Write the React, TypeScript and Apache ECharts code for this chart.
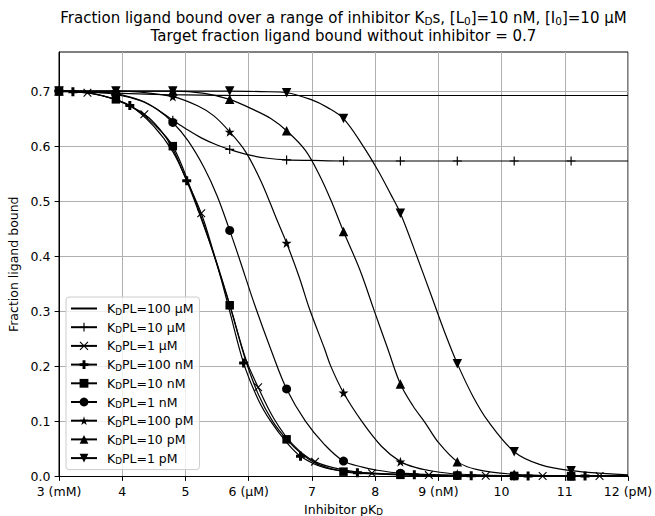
import React, { useEffect, useRef } from 'react';
import * as echarts from 'echarts';

const FONT = 'DejaVu Sans';

const xTicks = [3, 4, 5, 6, 7, 8, 9, 10, 11, 12];
const xTickLabels = ['3 (mM)', '4', '5', '6 (μM)', '7', '8', '9 (nM)', '10', '11', '12 (pM)'];
const yTicks = [0, 0.1, 0.2, 0.3, 0.4, 0.5, 0.6, 0.7];
const legendLabels = ['100 μM', '10 μM', '1 μM', '100 nM', '10 nM', '1 nM', '100 pM', '10 pM', '1 pM'];

// x positions where markers are drawn
const markersMain = [3.0, 3.9, 4.8, 5.7, 6.6, 7.5, 8.4, 9.3, 10.2, 11.1];
const markersCross = [3.45, 4.35, 5.25, 6.15, 7.05, 7.95, 8.85, 9.75, 10.65, 11.55];
const markersFilledPlus = [3.22, 4.12, 5.02, 5.92, 6.82, 7.72, 8.62, 9.52, 10.42, 11.32];
const markersNone: number[] = [];

// curves: [pKD, fraction bound]
const curve100uM = [[3.0, 0.699], [3.5, 0.698], [4.0, 0.696], [4.5, 0.694], [5.0, 0.693], [6.0, 0.692], [8.0, 0.692], [12.0, 0.692]];
const curve10uM = [[3.0, 0.7], [3.5, 0.698], [3.9, 0.694], [4.3, 0.682], [4.55, 0.667], [4.8, 0.647], [5.0, 0.632], [5.25, 0.615], [5.5, 0.602], [5.7, 0.594], [6.0, 0.584], [6.3, 0.578], [6.6, 0.575], [7.0, 0.574], [7.5, 0.573], [8.4, 0.573], [9.3, 0.573], [10.2, 0.573], [11.1, 0.573], [12.0, 0.573]];
const curve1uM = [[3.0, 0.7], [3.45, 0.697], [3.9, 0.684], [4.35, 0.658], [4.6, 0.63], [4.8, 0.595], [5.0, 0.543], [5.25, 0.478], [5.45, 0.405], [5.72, 0.305], [5.95, 0.215], [6.15, 0.162], [6.4, 0.105], [6.7, 0.058], [7.05, 0.027], [7.5, 0.012], [7.95, 0.006], [8.85, 0.0025], [9.75, 0.0015], [10.65, 0.001], [11.55, 0.0008], [12.0, 0.0008]];
const curve100nM = [[3.0, 0.7], [3.22, 0.699], [3.6, 0.694], [4.12, 0.674], [4.5, 0.636], [4.8, 0.59], [5.02, 0.537], [5.3, 0.452], [5.5, 0.385], [5.7, 0.3], [5.92, 0.206], [6.15, 0.14], [6.35, 0.1], [6.6, 0.062], [6.82, 0.037], [7.2, 0.016], [7.72, 0.007], [8.62, 0.003], [9.52, 0.0015], [10.42, 0.001], [11.32, 0.0008], [12.0, 0.0007]];
const curve10nM = [[3.0, 0.7], [3.5, 0.696], [3.9, 0.685], [4.2, 0.668], [4.5, 0.64], [4.8, 0.6], [5.1, 0.518], [5.3, 0.455], [5.45, 0.402], [5.7, 0.311], [5.95, 0.212], [6.15, 0.15], [6.38, 0.1], [6.6, 0.0675], [6.85, 0.04], [7.1, 0.022], [7.5, 0.0088], [8.0, 0.0045], [8.4, 0.003], [9.3, 0.0016], [10.2, 0.001], [11.1, 0.0008], [12.0, 0.0007]];
const curve1nM = [[3.0, 0.7], [3.5, 0.699], [3.9, 0.695], [4.3, 0.683], [4.55, 0.667], [4.8, 0.643], [5.04, 0.61], [5.3, 0.56], [5.5, 0.51], [5.7, 0.447], [5.84, 0.4], [6.1, 0.31], [6.36, 0.228], [6.6, 0.159], [6.9, 0.1], [7.2, 0.058], [7.5, 0.028], [7.8, 0.017], [8.0, 0.012], [8.4, 0.006], [9.3, 0.002], [10.2, 0.001], [11.1, 0.0007], [12.0, 0.0006]];
const curve100pM = [[3.0, 0.7], [3.9, 0.7], [4.3, 0.698], [4.8, 0.69], [5.2, 0.673], [5.45, 0.655], [5.7, 0.626], [5.95, 0.59], [6.2, 0.535], [6.44, 0.468], [6.6, 0.424], [6.8, 0.362], [6.96, 0.305], [7.2, 0.232], [7.3, 0.2], [7.5, 0.152], [7.79, 0.1], [8.1, 0.055], [8.4, 0.027], [8.65, 0.016], [8.9, 0.01], [9.3, 0.0045], [10.2, 0.0015], [11.1, 0.0007], [12.0, 0.0005]];
const curve10pM = [[3.0, 0.7], [3.9, 0.7], [4.8, 0.7], [5.3, 0.696], [5.7, 0.685], [6.1, 0.665], [6.35, 0.65], [6.6, 0.628], [6.9, 0.592], [7.13, 0.545], [7.3, 0.502], [7.5, 0.445], [7.76, 0.375], [7.98, 0.303], [8.2, 0.232], [8.4, 0.168], [8.6, 0.128], [8.79, 0.098], [9.0, 0.062], [9.3, 0.027], [9.6, 0.013], [10.2, 0.004], [11.1, 0.0012], [12.0, 0.0006]];
const curve1pM = [[3.0, 0.7], [3.9, 0.7], [4.8, 0.7], [5.7, 0.7], [6.2, 0.699], [6.6, 0.697], [7.0, 0.684], [7.25, 0.67], [7.5, 0.65], [7.8, 0.602], [8.05, 0.555], [8.25, 0.512], [8.4, 0.478], [8.66, 0.4], [8.9, 0.325], [9.1, 0.262], [9.3, 0.205], [9.55, 0.145], [9.79, 0.1], [10.2, 0.045], [10.6, 0.022], [11.1, 0.0105], [12.0, 0.003]];

const SYM_PLUS = 'path://M0,4.35H10V5.65H0Z M4.35,0H5.65V10H4.35Z';
const SYM_X = 'path://M0,0.9L0.9,0L10,9.1L9.1,10Z M9.1,0L10,0.9L0.9,10L0,9.1Z';
const SYM_PFILL = 'path://M3.33,0H6.67V3.33H10V6.67H6.67V10H3.33V6.67H0V3.33H3.33Z';
const SYM_STAR = 'path://M5,0L6.12,3.45L9.76,3.45L6.82,5.59L7.94,9.05L5,6.91L2.06,9.05L3.18,5.59L0.24,3.45L3.88,3.45Z';
const SYM_TDOWN = 'path://M0,0H10L5,10Z';

const curves = [curve100uM, curve10uM, curve1uM, curve100nM, curve10nM, curve1nM, curve100pM, curve10pM, curve1pM];
const markerSets = [markersNone, markersMain, markersCross, markersFilledPlus, markersMain, markersMain, markersMain, markersMain, markersMain];
const symbols = ['none', SYM_PLUS, SYM_X, SYM_PFILL, 'rect', 'circle', SYM_STAR, 'triangle', SYM_TDOWN];
const symbolSizes = [0, 9, 8.5, 9, 8.5, 9, 10, 9.5, 9.5];

const subStyle = (size: number) => ({ fontSize: size, fontFamily: FONT, fill: '#000', color: '#000', verticalAlign: 'bottom' as const });

function buildOption() {
  const series = curves.map((pts, i) => {
    const marks = markerSets[i];
    const data = pts.map(([x, y]) => {
      const isMark = marks.some((m) => Math.abs(m - x) < 1e-6);
      return isMark ? { value: [x, y] } : { value: [x, y], symbol: 'none' };
    });
    return {
      name: legendLabels[i],
      type: 'line',
      data,
      smooth: 0.35,
      symbol: symbols[i],
      symbolSize: symbolSizes[i],
      showSymbol: true,
      showAllSymbol: true,
      clip: true,
      lineStyle: { color: '#000', width: 1.2 },
      itemStyle: i === 0 ? { color: 'rgba(0,0,0,0)', borderWidth: 0 } : { color: '#000', borderWidth: 0 },
      emphasis: { disabled: true },
      z: 2,
    };
  });

  return {
    animation: false,
    backgroundColor: '#fff',
    textStyle: { fontFamily: FONT },
    grid: {
      left: 59,
      top: 52,
      width: 569,
      height: 424.5,
      outerBoundsMode: 'none',
      containLabel: false,
      show: true,
      borderColor: '#000',
      borderWidth: 1,
      backgroundColor: 'transparent',
    },
    graphic: [
      {
        type: 'text',
        x: 343.5,
        y: 17.8,
        style: {
          text: 'Fraction ligand bound over a range of inhibitor K{sub|D}s, [L{sub|0}]=10 nM, [I{sub|0}]=10 μM',
          fontSize: 15,
          fontFamily: FONT,
          fill: '#000',
          align: 'center',
          verticalAlign: 'middle',
          lineHeight: 18,
          rich: { sub: subStyle(10.5) },
        },
      },
      {
        type: 'text',
        x: 343.5,
        y: 35.8,
        style: {
          text: 'Target fraction ligand bound without inhibitor = 0.7',
          fontSize: 15,
          fontFamily: FONT,
          fill: '#000',
          align: 'center',
          verticalAlign: 'middle',
          lineHeight: 18,
        },
      },
    ],
    legend: {
      orient: 'vertical',
      left: 66,
      top: 297,
      padding: [4, 6, 4, 4],
      itemWidth: 26,
      itemHeight: 11,
      itemGap: 3.7,
      selectedMode: false,
      backgroundColor: 'rgba(255,255,255,0.8)',
      borderColor: '#cccccc',
      borderWidth: 1,
      borderRadius: 3,
      data: legendLabels.map((n, i) => (i === 0 ? { name: n, itemStyle: { color: 'rgba(0,0,0,0)', borderWidth: 0 } } : { name: n })),
      formatter: (name: string) => 'K{sub|D}PL=' + name,
      textStyle: {
        fontSize: 12.5,
        fontFamily: FONT,
        color: '#000',
        lineHeight: 15,
        padding: [0, 0, 0, 5],
        rich: { sub: subStyle(8.75) },
      },
    },
    xAxis: {
      type: 'value',
      min: 3,
      max: 12,
      interval: 1,
      name: 'Inhibitor pK{sub|D}',
      nameLocation: 'middle',
      nameGap: 20,
      nameTextStyle: { fontSize: 12.5, fontFamily: FONT, color: '#000', lineHeight: 14, rich: { sub: subStyle(8.75) } },
      axisLine: { show: true, lineStyle: { color: '#000', width: 1 } },
      axisTick: { show: true, inside: false, length: 4.4, lineStyle: { color: '#000', width: 1 } },
      axisLabel: {
        margin: 8.5,
        fontSize: 12.5,
        fontFamily: FONT,
        color: '#000',
        formatter: (v: number) => {
          const k = xTicks.indexOf(Math.round(v));
          return k >= 0 ? xTickLabels[k] : '';
        },
      },
      splitLine: { show: true, lineStyle: { color: '#b0b0b0', width: 1 } },
    },
    yAxis: {
      type: 'value',
      min: 0,
      max: 0.771,
      interval: 0.1,
      name: 'Fraction ligand bound',
      nameLocation: 'middle',
      nameGap: 36,
      nameTextStyle: { fontSize: 12.5, fontFamily: FONT, color: '#000' },
      axisLine: { show: true, lineStyle: { color: '#000', width: 1 } },
      axisTick: { show: true, inside: false, length: 4.4, customValues: yTicks, lineStyle: { color: '#000', width: 1 } },
      axisLabel: {
        margin: 8.5,
        fontSize: 12.5,
        fontFamily: FONT,
        color: '#000',
        customValues: yTicks,
        formatter: (v: number) => v.toFixed(1),
      },
      splitLine: { show: true, lineStyle: { color: '#b0b0b0', width: 1 } },
    },
    series,
  };
}

export default function App() {
  const ref = useRef<HTMLDivElement>(null);
  useEffect(() => {
    if (!ref.current) return;
    const chart = echarts.init(ref.current, null, { renderer: 'svg' });
    chart.setOption(buildOption() as any);
    return () => chart.dispose();
  }, []);
  return (
    <div
      ref={ref}
      style={{ position: 'fixed', left: 0, top: 0, width: 655, height: 516, background: '#fff' }}
    />
  );
}
